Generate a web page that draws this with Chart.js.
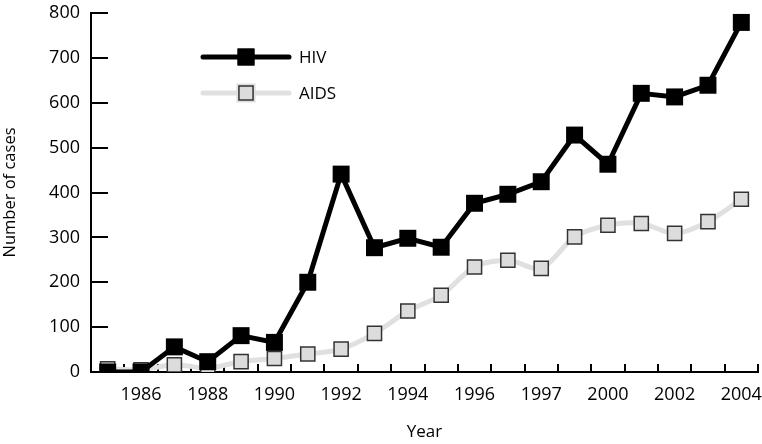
<!DOCTYPE html>
<html>
<head>
<meta charset="utf-8">
<script src="https://cdn.jsdelivr.net/npm/chart.js@4"></script>
<style>
  html, body { margin: 0; padding: 0; background: #fff; }
  #wrap { width: 762px; height: 444px; }
</style>
</head>
<body>
<div id="wrap"><canvas id="cases_chart"></canvas></div>
<script>
const years = ['1985', '1986', '1987', '1988', '1989', '1990', '1991', '1992', '1993', '1994',
  '1995', '1996', '1997', '1998', '1999', '2000', '2001', '2002', '2003', '2004'];
// tick labels as printed under the axis (note "1997" where 1998 sits)
const tickLabels = ['', '1986', '', '1988', '', '1990', '', '1992', '', '1994',
  '', '1996', '', '1997', '', '2000', '', '2002', '', '2004'];
const hiv = [0, 0, 56, 23, 81, 66, 200, 441, 277, 298, 278, 376, 396, 424, 528, 463, 621, 613, 639, 779];
const aids = [7, 5, 16, 9, 23, 30, 40, 51, 86, 136, 171, 234, 249, 231, 301, 327, 331, 309, 335, 385];
const yTicks = [0, 100, 200, 300, 400, 500, 600, 700, 800];

const font = 'Open Sans';

// legend drawn inside the plot, line + marker + label
const insideLegend = {
  id: 'insideLegend',
  afterDraw(chart) {
    const ctx = chart.ctx;
    const a = chart.chartArea;
    const rows = [
      { ds: chart.data.datasets[0], y: a.top + 44 },
      { ds: chart.data.datasets[1], y: a.top + 80 }
    ];
    const x0 = a.left + 112, x1 = a.left + 198;
    ctx.save();
    rows.forEach(r => {
      ctx.beginPath();
      ctx.lineCap = 'round';
      ctx.strokeStyle = r.ds.borderColor;
      ctx.lineWidth = r.ds.borderWidth;
      ctx.moveTo(x0, r.y);
      ctx.lineTo(x1, r.y);
      ctx.stroke();
      Chart.helpers.drawPoint(ctx, {
        pointStyle: 'rect',
        radius: r.ds.pointRadius,
        borderWidth: r.ds.pointBorderWidth
      }, (x0 + x1) / 2, r.y);
      ctx.fillStyle = r.ds.pointBackgroundColor;
      ctx.strokeStyle = r.ds.pointBorderColor;
      ctx.lineWidth = r.ds.pointBorderWidth;
      ctx.fill();
      if (r.ds.pointBorderWidth) ctx.stroke();
      ctx.fillStyle = '#000';
      ctx.font = '17px "' + font + '"';
      ctx.textBaseline = 'middle';
      ctx.textAlign = 'left';
      ctx.fillText(r.ds.label, x1 + 10, r.y + 1);
    });
    ctx.restore();
  }
};

new Chart(document.getElementById('cases_chart'), {
  type: 'line',
  data: {
    labels: years,
    datasets: [{
      label: 'HIV',
      data: hiv,
      borderColor: '#000',
      borderWidth: 5,
      tension: 0,
      pointStyle: 'rect',
      pointRadius: 12,
      pointBackgroundColor: '#000',
      pointBorderColor: '#000',
      pointBorderWidth: 0
    }, {
      label: 'AIDS',
      data: aids,
      borderColor: '#e0e0e0',
      borderWidth: 5,
      tension: 0.3,
      pointStyle: 'rect',
      pointRadius: 10,
      pointBackgroundColor: '#dcdcdc',
      pointBorderColor: '#333',
      pointBorderWidth: 1.5
    }]
  },
  options: {
    responsive: true,
    maintainAspectRatio: false,
    animation: false,
    layout: { autoPadding: false, padding: { top: 13, right: 4, left: 0, bottom: 0 } },
    plugins: {
      legend: { display: false },
      tooltip: { enabled: false }
    },
    scales: {
      x: {
        type: 'category',
        offset: true,
        grid: {
          offset: true,
          drawOnChartArea: false,
          color: '#000',
          lineWidth: 2,
          tickLength: -8
        },
        border: { color: '#000', width: 2 },
        ticks: {
          autoSkip: false,
          maxRotation: 0,
          padding: 20,
          color: '#000',
          font: { family: font, size: 18 },
          callback: (v, i) => tickLabels[i]
        },
        title: {
          display: true,
          text: 'Year',
          color: '#000',
          font: { family: font, size: 17 },
          padding: { top: 4, bottom: 2 }
        },
        afterFit: s => {
          s.height = 72;
          s.paddingLeft = 0;
          s.paddingRight = 0;
        }
      },
      y: {
        min: 0,
        max: 800,
        afterBuildTicks: s => { s.ticks = yTicks.map(v => ({ value: v })); },
        grid: {
          drawOnChartArea: false,
          color: '#000',
          lineWidth: 2,
          tickLength: -17
        },
        border: { color: '#000', width: 2 },
        ticks: {
          padding: 28,
          color: '#000',
          font: { family: font, size: 18 }
        },
        title: {
          display: true,
          text: 'Number of cases',
          color: '#000',
          font: { family: font, size: 16.5 },
          padding: { top: 0, bottom: 0 }
        },
        afterFit: s => {
          s.width = 91;
          s.paddingTop = 0;
          s.paddingBottom = 0;
        }
      }
    }
  },
  plugins: [insideLegend]
});
</script>
</body>
</html>
